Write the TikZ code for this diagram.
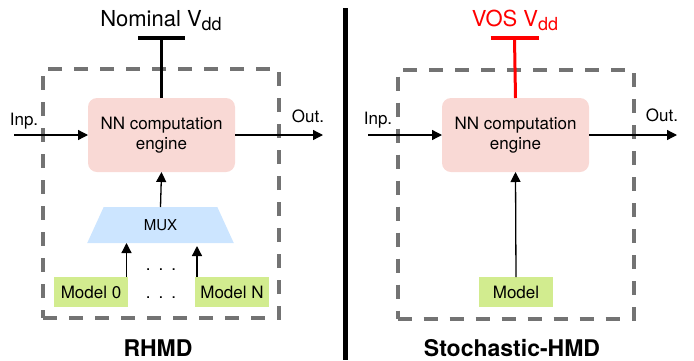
\documentclass[tikz,border=0pt]{standalone}
\usepackage{fontspec}
\setmainfont{TeX Gyre Heros}
\usetikzlibrary{arrows.meta,shapes.geometric}
\definecolor{nnpink}{HTML}{F9D9D5}
\definecolor{muxblue}{HTML}{CCE5FF}
\definecolor{modgreen}{HTML}{D2EC8F}
\definecolor{framegray}{HTML}{737373}
\definecolor{vosred}{HTML}{FF0000}
\begin{document}
\begin{tikzpicture}[x=1pt,y=-1pt,
  every node/.style={inner sep=0pt,outer sep=0pt},
  engine/.style={fill=nnpink,rounded corners=9pt,minimum width=147pt,minimum height=74pt,align=center,font=\fontsize{17}{20}\selectfont},
  frame/.style={draw=framegray,line width=4pt,dash pattern=on 14pt off 12pt,minimum width=236pt,minimum height=249pt},
  modelbox/.style={fill=modgreen,minimum width=74pt,minimum height=30pt,font=\fontsize{17}{20}\selectfont},
  mux/.style={trapezium,trapezium angle=66.7,trapezium stretches=true,fill=muxblue,minimum width=147pt,minimum height=36pt,font=\fontsize{15}{18}\selectfont},
  arr/.style={line width=1.3pt,-{Triangle[length=10pt,width=10pt]}},
  vdd/.style={line width=3pt},
  lbl/.style={anchor=base,font=\fontsize{17}{20}\selectfont},
  title/.style={anchor=base,font=\fontsize{22}{26}\selectfont},
  caption/.style={anchor=base,font=\fontsize{23}{26}\selectfont\bfseries}
]
\useasboundingbox (0,0) rectangle (694,360);

% ---------- left: RHMD ----------
\node[frame] (f1) at (161,193.5) {};
\node[engine] (nn1) at (161.5,135) {NN computation\\engine};
\node[mux] (mux) at (160.5,225) {MUX};
\node[modelbox] (m0) at (91,292) {Model 0};
\node[modelbox] (mN) at (232,292) {Model N};
\node[lbl] (d1) at (161,270) {.\hspace{8pt}.\hspace{8pt}.};
\node[lbl] (d2) at (161,298) {.\hspace{8pt}.\hspace{8pt}.};

\coordinate (v1) at (161.5,38);
\draw[vdd] (nn1.north) -- (v1);
\draw[line width=3.5pt] ([xshift=-23.5pt]v1) -- ([xshift=23.5pt]v1);
\node[title] (t1) at (161,26) {Nominal V\raisebox{-4.5pt}{\fontsize{18}{18}\selectfont dd}};

\coordinate (in1) at (14,135);
\coordinate (out1) at (323,135);
\draw[arr] (in1) -- (nn1.west);
\draw[arr] (nn1.east) -- (out1);
\node[lbl] (inp1) at (24,125) {Inp.};
\node[lbl] (o1) at (308,122) {Out.};

\draw[arr] (mux.north) -- (nn1.south);
\draw[arr] ([xshift=-1.5pt]m0.north east) -- ([xshift=-1.5pt]m0.north east |- mux.south);
\draw[arr,shorten >=3pt] ([xshift=2pt]mN.north west) -- ([xshift=2pt]mN.north west |- mux.south);

\node[caption] (c1) at (158,356) {RHMD};

% ---------- divider ----------
\coordinate (divtop) at (345.5,8);
\coordinate (divbot) at (345.5,360);
\draw[line width=4.3pt] (divtop) -- (divbot);

% ---------- right: Stochastic-HMD ----------
\node[frame] (f2) at (515.5,194) {};
\node[engine] (nn2) at (515.5,135) {NN computation\\engine};
\node[modelbox] (m) at (516,292) {Model};

\coordinate (v2) at (514.5,38);
\draw[vdd,vosred] (nn2.north) -- (v2);
\draw[line width=3.5pt,vosred] ([xshift=-24pt]v2) -- ([xshift=24pt]v2);
\node[title,text=vosred] (t2) at (515,26) {VOS V\raisebox{-4.5pt}{\fontsize{18}{18}\selectfont dd}};

\coordinate (in2) at (368,135);
\coordinate (out2) at (677,135);
\draw[arr] (in2) -- (nn2.west);
\draw[arr] (nn2.east) -- (out2);
\node[lbl] (inp2) at (378,124) {Inp.};
\node[lbl] (o2) at (662,121) {Out.};

\draw[arr] (m.north) -- (nn2.south);

\node[caption] (c2) at (512,356) {Stochastic-HMD};
\end{tikzpicture}
\end{document}
